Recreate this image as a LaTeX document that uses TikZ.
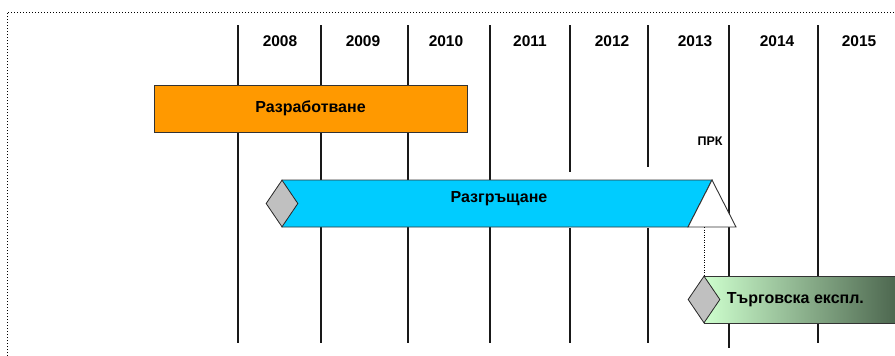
\documentclass[tikz,border=0pt]{standalone}
\usepackage{fontspec}
\setmainfont{Liberation Sans}
\usetikzlibrary{shapes.geometric,positioning}
\definecolor{devorange}{RGB}{255,153,0}
\definecolor{deplblue}{RGB}{0,204,255}
\definecolor{milegray}{RGB}{192,192,192}
\definecolor{oplight}{RGB}{206,255,206}
\definecolor{opmid}{RGB}{166,200,166}
\definecolor{opdark}{RGB}{78,104,80}
\tikzset{
    yearline/.style={line width=1.6pt,black!90},
    yearlabel/.style={font=\bfseries\fontsize{15.5}{18}\selectfont},
    barlabel/.style={font=\bfseries\fontsize{16}{18}\selectfont},
    barframe/.style={draw=black!80,line width=0.9pt},
    milestone/.style={diamond,draw=black!85,fill=milegray,line width=0.8pt,inner sep=0pt,minimum width=32pt,minimum height=47pt}
}
\begin{document}
\begin{tikzpicture}[x=1pt,y=-1pt]
            \useasboundingbox (0,0) rectangle (895,356);
            \draw[line width=1pt,dash pattern=on 1pt off 2pt] (7,356)--(7,12)--(895,12);
            \foreach \x/\yend in {238/343,321/343,408/343,490/343,818/343}
                \draw[yearline] (\x,25)--(\x,\yend);
            \draw[yearline] (570,25)--(570,172) (570,228)--(570,343);
            \draw[yearline] (648,25)--(648,167) (648,228)--(648,343);
            \draw[yearline] (729,25)--(729,348);
            \foreach \x/\yr in {280/2008,363/2009,446/2010,530/2011,612/2012,695/2013,777/2014,859/2015}
                \node[yearlabel] (y\yr) at (\x,41) {\yr};
            \node[barframe,fill=devorange,barlabel,minimum width=313pt,minimum height=47pt] (dev) at (310.5,108.5) {Разработване};
            \draw[barframe,fill=deplblue] (282,180)--(712,180)--(688,227)--(282,227)--cycle;
            \node[barlabel] (depl) at (499,199) {Разгръщане};
            \node[milestone] (deplstart) at (282,203.5) {};
            \draw[barframe,fill=white] (712,180)--(736,227)--(688,227)--cycle;
            \coordinate (prkbase) at (704,227);
            \node[font=\bfseries\fontsize{12.5}{14}\selectfont] (prk) at (710,141) {ПРК};
            \shade[left color=oplight,middle color=opmid,right color=opdark] (704,276) rectangle (895,323);
            \draw[barframe] (895,276)--(704,276)--(704,323)--(895,323);
            \node[milestone] (opstart) at (704,299.5) {};
            \draw[line width=1pt,dash pattern=on 1pt off 1.5pt] (prkbase)--(opstart.north);
            \node[barlabel,anchor=west,right=3pt of opstart.east] (op) {Търговска експл.};
        \end{tikzpicture}
\end{document}
